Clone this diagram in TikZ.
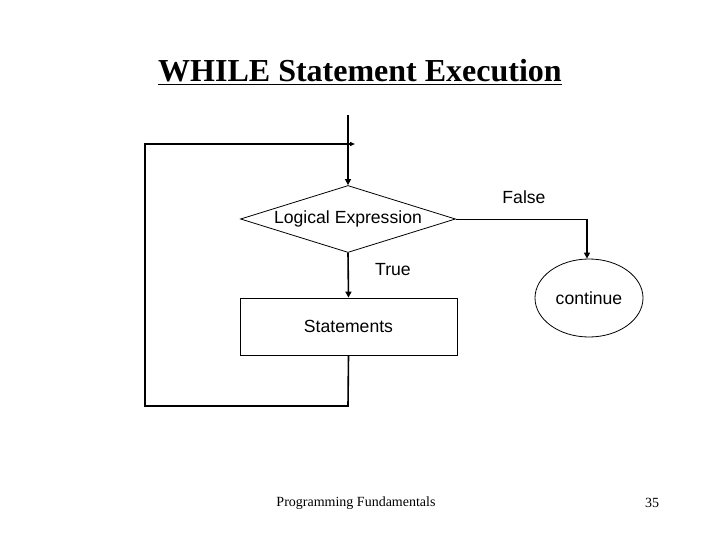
\documentclass[tikz,border=0pt]{standalone}
\usepackage{fontspec}
\setmainfont{Liberation Serif}
\setsansfont{Liberation Sans}
\usetikzlibrary{shapes.geometric,arrows.meta}
\begin{document}
\begin{tikzpicture}[x=1pt,y=-1pt,
  flow/.style={line width=1.6pt,-{Triangle[length=6pt,width=6pt]}},
  loopflow/.style={line width=1.6pt,-{Triangle[length=5pt,width=4pt]}},
  thin/.style={line width=0.8pt},
  lbl/.style={font=\sffamily\fontsize{17.6}{20}\selectfont}]
\useasboundingbox (0,0) rectangle (720,540);
\node[font=\bfseries\fontsize{32}{36}\selectfont] (title) at (360,72) {\underline{WHILE Statement Execution}};
\coordinate (start) at (348,115);
\node[diamond,draw,thin,minimum width=215pt,minimum height=67pt,inner sep=0pt] (cond) at (348,219) {};
\node[lbl] (condtext) at (348,219) {Logical Expression};
\node[draw,thin,minimum width=217pt,minimum height=57pt,inner sep=0pt,lbl] (stmt) at (348.5,326.5) {Statements};
\node[ellipse,draw,thin,minimum width=108pt,minimum height=78pt,inner sep=0pt,lbl] (cont) at (589,298) {continue};
\coordinate (fr) at (587,219);
\coordinate (lb) at (348,406);
\coordinate (ll) at (145,406);
\coordinate (lt) at (145,144);
\coordinate (la) at (355,144);
\draw[flow] (start) -- (cond.north);
\draw[thin] (cond.east) -- (fr);
\draw[flow] (fr) -- (cont.north -| fr);
\draw[flow] (cond.south) -- (stmt.north);
\draw[loopflow] (stmt.south) -- (lb) -- (ll) -- (lt) -- (la);
\node[lbl] (false) at (524,197) {False};
\node[lbl] (true) at (393,270) {True};
\node[font=\fontsize{14}{16}\selectfont] (foot) at (356,503) {Programming Fundamentals};
\node[font=\fontsize{14}{16}\selectfont] (page) at (652,503) {35};
\end{tikzpicture}
\end{document}
